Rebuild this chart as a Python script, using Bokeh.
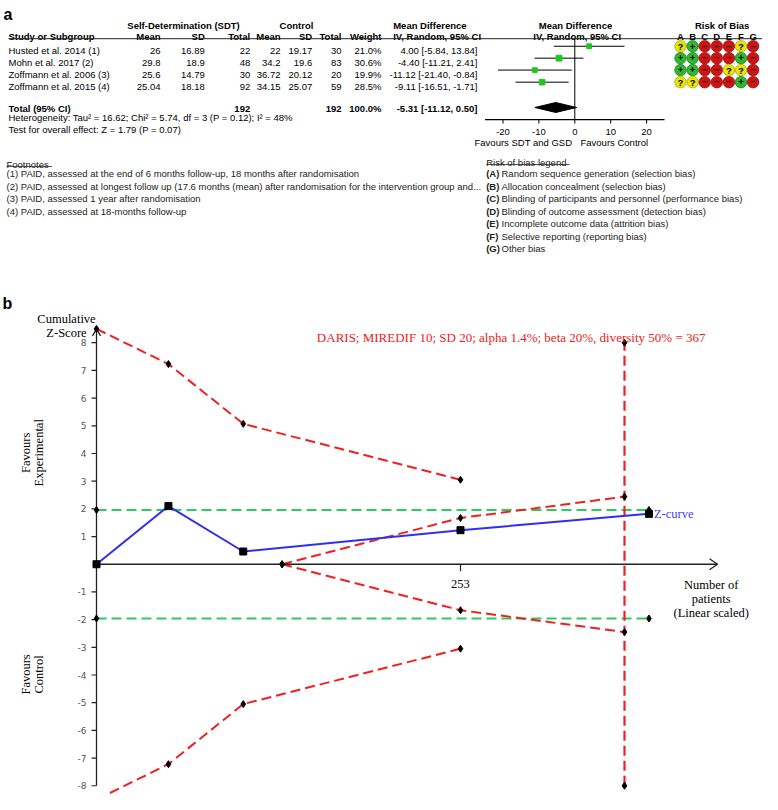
import math
from bokeh.plotting import figure
from bokeh.models import Range1d
from bokeh.core.properties import value
from bokeh.embed import file_html
from bokeh.resources import INLINE

SANS = "Liberation Sans"
SERIF = "Liberation Serif"

# ---------------- Panel a: data ----------------
studies = ["Husted et al. 2014 (1)", "Mohn et al. 2017 (2)",
           "Zoffmann et al. 2006 (3)", "Zoffmann et al. 2015 (4)"]
sdt_mean = ["26", "29.8", "25.6", "25.04"]
sdt_sd = ["16.89", "18.9", "14.79", "18.18"]
sdt_total = [22, 48, 30, 92]
ctl_mean = ["22", "34.2", "36.72", "34.15"]
ctl_sd = ["19.17", "19.6", "20.12", "25.07"]
ctl_total = [30, 83, 20, 59]
weights = [21.0, 30.6, 19.9, 28.5]
md = [4.00, -4.40, -11.12, -9.11]
md_lo = [-5.84, -11.21, -21.40, -16.51]
md_hi = [13.84, 2.41, -0.84, -1.71]
total_md, total_lo, total_hi = -5.31, -11.12, 0.50
md_ticks = [-20, -10, 0, 10, 20]
md_axis = [-25, 25]
rob_domains = ["A", "B", "C", "D", "E", "F", "G"]
rob = [["?", "+", "-", "-", "-", "?", "-"],
       ["+", "+", "-", "-", "-", "+", "-"],
       ["+", "+", "-", "-", "?", "?", "-"],
       ["?", "?", "-", "-", "-", "+", "-"]]
heterogeneity = "Heterogeneity: Tau\u00b2 = 16.62; Chi\u00b2 = 5.74, df = 3 (P = 0.12); I\u00b2 = 48%"
overall = "Test for overall effect: Z = 1.79 (P = 0.07)"
footnotes = ["(1) PAID, assessed at the end of 6 months follow-up, 18 months after randomisation",
             "(2) PAID, assessed at longest follow up (17.6 months (mean) after randomisation for the intervention group and...",
             "(3) PAID, assessed 1 year after randomisation",
             "(4) PAID, assessed at 18-months follow-up"]
rob_legend = ["Random sequence generation (selection bias)",
              "Allocation concealment (selection bias)",
              "Blinding of participants and personnel (performance bias)",
              "Blinding of outcome assessment (detection bias)",
              "Incomplete outcome data (attrition bias)",
              "Selective reporting (reporting bias)",
              "Other bias"]

# ---------------- Panel b: data ----------------
z_patients = [0, 50, 102, 253, 384]
z_scores = [0, 2.10, 0.46, 1.23, 1.82]
bound_patients = [0, 50, 102, 253]
bound_upper = [8.5, 7.23, 5.07, 3.05]
bound_lower = [-8.5, -7.22, -5.05, -3.05]
fut_patients = [129, 253, 367]
fut_upper = [0, 1.67, 2.44]
fut_lower = [0, -1.66, -2.45]
conv_patients = [0, 384]
conv_z = 1.96
ris = 367
ris_z = [-8, 8]
z_ticks = [-8, -7, -6, -5, -4, -3, -2, -1, 1, 2, 3, 4, 5, 6, 7, 8]
x_ticks = [253]
ris_label = "DARIS; MIREDIF 10; SD 20; alpha 1.4%; beta 20%, diversity 50% = 367"

# ---------------- canvas (image-pixel coordinates) ----------------
W, H = 762, 794
X0, X1 = 0, 762
YB, YT = 801, 1
MD0, MDS = 574.3, 3.59        # forest: px of 0 and px per unit
PAT0, PATS = 96.0, 1.4387     # TSA: px of 0 patients, px per patient
Z0, ZS = 569.0, 27.9          # TSA: px of z=0, px per z unit

p = figure(width=W, height=H, x_range=Range1d(X0, X1), y_range=Range1d(YB, YT),
           x_axis_type=None, y_axis_type=None, toolbar_location=None,
           output_backend="svg", min_border=0, outline_line_color=None,
           background_fill_color="white", border_fill_color="white")
p.grid.visible = False
p.extra_x_ranges = {"md": Range1d((X0 - MD0) / MDS, (X1 - MD0) / MDS),
                    "pat": Range1d((X0 - PAT0) / PATS, (X1 - PAT0) / PATS)}
p.extra_y_ranges = {"z": Range1d((Z0 - YB) / ZS, (Z0 - YT) / ZS)}


def px_pat(d):
    return d / PATS


def px_z(d):
    return d / ZS


def T(x, y, texts, size=9.5, bold=False, align="left", baseline="alphabetic",
      color="black", font=SANS, angle=0.0, **kw):
    if isinstance(texts, str):
        texts = [texts]
    n = len(texts)
    xs = list(x) if isinstance(x, (list, tuple)) else [x] * n
    ys = list(y) if isinstance(y, (list, tuple)) else [y] * n
    p.text(x=xs, y=ys, text=texts, text_font=value(font),
           text_font_size=f"{size}px",
           text_font_style="bold" if bold else "normal",
           text_align=align, text_baseline=baseline, text_color=color,
           angle=angle, **kw)


# ================= Panel a =================
T(3, 15.5, "a", size=16, bold=True)
h1, h2 = 26, 37
T(183, h1, "Self-Determination (SDT)", bold=True, align="center")
T(296, h1, "Control", bold=True, align="center")
T(392.7, h1, "Mean Difference", bold=True)
T(575, h1, "Mean Difference", bold=True, align="center")
T(721.7, h1, "Risk of Bias", bold=True, align="center")

col_r = [160, 204.3, 249.7, 280, 311.7, 341, 381]
T(8, h2, "Study or Subgroup", bold=True)
T(col_r, h2, ["Mean", "SD", "Total", "Mean", "SD", "Total", "Weight"], bold=True, align="right")
T(392.7, h2, "IV, Random, 95% CI", bold=True)
T(576.7, h2, "IV, Random, 95% CI", bold=True, align="center")
rob_x = [680 + 12.1 * i for i in range(len(rob_domains))]
T(rob_x, h2, rob_domains, bold=True, align="center")
p.line([8, 770], [39.5, 39.5], line_color="#222", line_width=1)

row_base = [51.6, 63.6, 75.6, 87.8]
glyph_y = [b - 4.5 for b in row_base]
T(8, row_base, studies)
T(col_r[0], row_base, sdt_mean, align="right")
T(col_r[1], row_base, sdt_sd, align="right")
T(col_r[2], row_base, [str(v) for v in sdt_total], align="right")
T(col_r[3], row_base, ctl_mean, align="right")
T(col_r[4], row_base, ctl_sd, align="right")
T(col_r[5], row_base, [str(v) for v in ctl_total], align="right")
T(col_r[6], row_base, [f"{w:.1f}%" for w in weights], align="right")
T(477, row_base, [f"{m:.2f} [{l:.2f}, {h:.2f}]" for m, l, h in zip(md, md_lo, md_hi)], align="right")

tot_b = 110
T(8, tot_b, "Total (95% CI)", bold=True)
T(col_r[2], tot_b, str(sum(sdt_total)), bold=True, align="right")
T(col_r[5], tot_b, str(sum(ctl_total)), bold=True, align="right")
T(col_r[6], tot_b, f"{sum(weights):.1f}%", bold=True, align="right")
T(477, tot_b, f"{total_md:.2f} [{total_lo:.2f}, {total_hi:.2f}]", bold=True, align="right")
T(8, 119, heterogeneity)
T(8, 130.5, overall)

# forest plot
ax_y = 121
p.segment(x0=[0], y0=[39.5], x1=[0], y1=[ax_y], line_color="black", line_width=1, x_range_name="md")
p.segment(x0=md_lo, y0=glyph_y, x1=md_hi, y1=glyph_y, line_color="black", line_width=1, x_range_name="md")
p.scatter(x=md, y=glyph_y, size=[1.05 * math.sqrt(w) for w in weights], marker="square",
          fill_color="#1ec81e", line_color="#1ec81e", x_range_name="md")
dy = 108.8
p.patch(x=[total_lo, total_md, total_hi, total_md], y=[dy, dy - 5, dy, dy + 5],
        fill_color="black", line_color="black", x_range_name="md")
p.segment(x0=[md_axis[0]], y0=[ax_y], x1=[md_axis[1]], y1=[ax_y], line_color="black", line_width=1.2, x_range_name="md")
p.segment(x0=md_ticks, y0=[ax_y] * len(md_ticks), x1=md_ticks, y1=[ax_y + 4] * len(md_ticks),
          line_color="black", line_width=1, x_range_name="md")
T(md_ticks, 133, [str(t) for t in md_ticks], align="center", x_range_name="md")
T(571.7, 144, "Favours SDT and GSD", align="right")
T(580, 144, "Favours Control")

# risk of bias circles
col_map = {"?": "#e8e40a", "+": "#2fb82f", "-": "#cf1414"}
edge_map = {"?": "#b0a800", "+": "#1c801c", "-": "#901010"}
sym_map = {"?": "?", "+": "+", "-": "\u2212"}
sym_col = {"?": "black", "+": "black", "-": "#3a0000"}
cx, cy, cf, ce, cs, cc = [], [], [], [], [], []
for r, row in enumerate(rob):
    for j, s in enumerate(row):
        cx.append(rob_x[j]); cy.append(glyph_y[r])
        cf.append(col_map[s]); ce.append(edge_map[s]); cs.append(sym_map[s]); cc.append(sym_col[s])
p.scatter(x=cx, y=cy, size=11.5, marker="circle", fill_color=cf, line_color=ce, line_width=0.8)
p.text(x=cx, y=[v + 0.3 for v in cy], text=cs, text_color=cc, text_font=value(SANS),
       text_font_size="9.5px", text_font_style="bold", text_align="center", text_baseline="middle")

# footnotes
fn_c = "#222"
T(6, 166.5, "Footnotes", color=fn_c)
p.line([6, 51.5], [168.2, 168.2], line_color=fn_c, line_width=0.8)
T(6, [175.8 + 12.5 * i for i in range(len(footnotes))], footnotes, color=fn_c)

T(485.7, 164.5, "Risk of bias legend", color=fn_c)
p.line([485.7, 569], [166.2, 166.2], line_color=fn_c, line_width=0.8)
leg_b = [175.8 + 12.5 * i for i in range(len(rob_legend))]
T(485.7, leg_b, [f"({d})" for d in rob_domains], bold=True, color=fn_c)
T(501, leg_b, rob_legend, color=fn_c)

# ================= Panel b =================
T(2, 306, "b", size=16, bold=True)
T(66, 322, "Cumulative", size=12.5, font=SERIF, align="center")
T(66, 336, "Z-Score", size=12.5, font=SERIF, align="center")
T(25, 456.7, "Favours", size=12.5, font=SERIF, align="center", baseline="middle", angle=math.pi / 2)
T(38.5, 456.7, "Experimental", size=12.5, font=SERIF, align="center", baseline="middle", angle=math.pi / 2)
T(25, 680, "Favours", size=12.5, font=SERIF, align="center", baseline="middle", angle=math.pi / 2)
T(38.5, 680, "Control", size=12.5, font=SERIF, align="center", baseline="middle", angle=math.pi / 2)

RED = "#f02020"
GREEN = "#2ecc5e"
BLUE = "#2f2ff0"
kz = dict(x_range_name="pat", y_range_name="z")

# conventional boundaries
for s in (1, -1):
    p.line(conv_patients, [s * conv_z] * 2, line_color=GREEN, line_width=2, line_dash="10 5", **kz)
# alpha-spending boundaries
p.line(bound_patients, bound_upper, line_color=RED, line_width=2, line_dash="10 5", **kz)
p.line(bound_patients, bound_lower, line_color=RED, line_width=2, line_dash="10 5", **kz)
# futility wedge
p.line(fut_patients, fut_upper, line_color=RED, line_width=2, line_dash="10 5", **kz)
p.line(fut_patients, fut_lower, line_color=RED, line_width=2, line_dash="10 5", **kz)
# required information size
p.line([ris, ris], ris_z, line_color=RED, line_width=2.2, line_dash="10 5", **kz)

# axes
tip_x = (717 - PAT0) / PATS
p.line([0, tip_x], [0, 0], line_color="#222", line_width=1.3, **kz)
p.line([tip_x - px_pat(8), tip_x, tip_x - px_pat(8)], [px_z(5.5), 0, -px_z(5.5)], line_color="#222", line_width=1.3, **kz)
p.line([0, 0], [ris_z[0], bound_upper[0]], line_color="#222", line_width=1.3, **kz)
p.line([-px_pat(4), 0, px_pat(4)], [bound_upper[0] - px_z(7), bound_upper[0], bound_upper[0] - px_z(7)],
       line_color="#222", line_width=1.3, **kz)
p.segment(x0=[-px_pat(5)] * len(z_ticks), y0=z_ticks, x1=[0] * len(z_ticks), y1=z_ticks,
          line_color="#222", line_width=1.2, **kz)
T(86, z_ticks, [str(t) for t in z_ticks], size=9, font="DejaVu Sans", color="#555",
  align="right", baseline="middle", y_range_name="z")
p.segment(x0=x_ticks, y0=[0] * len(x_ticks), x1=x_ticks, y1=[-px_z(7)] * len(x_ticks),
          line_color="#222", line_width=1.2, **kz)
T(x_ticks, 589, [str(t) for t in x_ticks], size=12.5, font=SERIF, align="center", x_range_name="pat")
T(710.7, [590, 604, 618], ["Number of", "patients", "(Linear scaled)"], size=12.5, font=SERIF, align="center")

# Z-curve
p.line(z_patients, z_scores, line_color=BLUE, line_width=2, **kz)

# markers
mx = bound_patients + bound_patients + fut_patients + fut_patients + conv_patients + conv_patients + [ris, ris]
my = bound_upper + bound_lower + fut_upper + fut_lower + [conv_z] * 2 + [-conv_z] * 2 + ris_z
p.scatter(x=mx, y=my, marker="diamond", size=7, color="black", **kz)
p.scatter(x=z_patients, y=z_scores, marker="square", size=7, color="black", **kz)

T(z_patients[-1] + px_pat(5), z_scores[-1], "Z-curve", size=12.5, font=SERIF, color="#4040ff",
  baseline="middle", **kz)
T(705, 341, ris_label, size=13, font=SERIF, color=RED, align="right")

open("out.html", "w").write(file_html(p, INLINE))
